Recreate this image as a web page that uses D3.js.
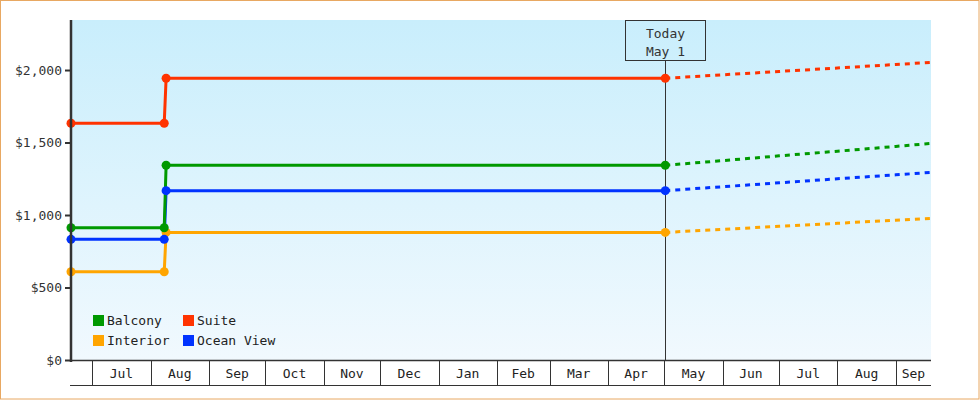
<!DOCTYPE html>
<html><head><meta charset="utf-8">
<script src="https://cdn.jsdelivr.net/npm/d3@7"></script>
<style>
body{margin:0;background:#fff}
svg{display:block;font-family:"DejaVu Sans Mono",monospace;font-size:13px}
</style>
</head><body><svg id="c" width="980" height="400"></svg>
<script>
// ---- data ----
const seriesNames = ["Balcony", "Suite", "Interior", "Ocean View"];
const historyDates = ["2022-06-19T17:00", "2022-08-08T06:00", "2022-08-09T06:00", "2023-05-01T12:00"];
const balconyHistory = [912, 912, 1343, 1343];
const suiteHistory = [1633, 1633, 1943, 1943];
const interiorHistory = [609, 609, 880, 880];
const oceanViewHistory = [832, 832, 1168, 1168];
const forecastDates = ["2023-05-01T12:00", "2023-06-01T00:00", "2023-07-01T00:00", "2023-08-01T00:00", "2023-09-01T00:00", "2023-09-19T17:00"];
const balconyForecast = [1343, 1375, 1408, 1440, 1473, 1494];
const suiteForecast = [1943, 1967, 1990, 2014, 2038, 2053];
const interiorForecast = [880, 901, 922, 943, 964, 977];
const oceanViewForecast = [1168, 1195, 1222, 1250, 1277, 1294];
const yTickValues = [0, 500, 1000, 1500, 2000];
const monthNames = ["Jan","Feb","Mar","Apr","May","Jun","Jul","Aug","Sep","Oct","Nov","Dec"];
const todayDate = "2023-05-01T12:00";
const todayText = ["Today", "May 1"];
const domainDates = ["2022-06-19T17:00", "2023-09-19T17:00"];
const yMax = 2345;

// ---- styles ----
const colors = {"Balcony":"#009900","Suite":"#ff3300","Interior":"#ffa500","Ocean View":"#0033ff"};
const L = 71, R = 931, T = 20, B = 360, AX = 385;

const parse = d3.timeParse("%Y-%m-%dT%H:%M");
const svg = d3.select("#c");
const x = d3.scaleTime().domain(domainDates.map(parse)).range([L, R]);
const y = d3.scaleLinear().domain([0, yMax]).range([B, T]);

const defs = svg.append("defs");
const grad = defs.append("linearGradient").attr("id","bg").attr("x1",0).attr("y1",0).attr("x2",0).attr("y2",1);
grad.append("stop").attr("offset","0%").attr("stop-color","#c9eefc");
grad.append("stop").attr("offset","100%").attr("stop-color","#f1f9fe");
defs.append("clipPath").attr("id","clip").append("rect").attr("x",L).attr("y",T).attr("width",R-L).attr("height",B-T);

// border
svg.append("rect").attr("x",0.5).attr("y",0.5).attr("width",978.5).attr("height",398.5)
  .attr("fill","#fff").attr("stroke","#e8a862").attr("stroke-width",1);

// plot background
svg.append("rect").attr("x",L).attr("y",T).attr("width",R-L).attr("height",B-T).attr("fill","url(#bg)");

// today line + label box
const tx = x(parse(todayDate));
svg.append("line").attr("x1",Math.round(tx)+0.5).attr("x2",Math.round(tx)+0.5).attr("y1",60).attr("y2",B)
  .attr("stroke","#333").attr("stroke-width",1);
svg.append("rect").attr("x",Math.round(tx)-39.5).attr("y",20.5).attr("width",80).attr("height",40)
  .attr("fill","none").attr("stroke","#333").attr("stroke-width",1);
svg.selectAll("text.today").data(todayText).join("text").attr("class","today")
  .attr("x",Math.round(tx)+0.5).attr("y",(d,i)=>33+i*18).attr("dy","0.35em").attr("text-anchor","middle")
  .attr("fill","#333").text(d=>d);

// series
const hist = {"Balcony":balconyHistory,"Suite":suiteHistory,"Interior":interiorHistory,"Ocean View":oceanViewHistory};
const fc = {"Balcony":balconyForecast,"Suite":suiteForecast,"Interior":interiorForecast,"Ocean View":oceanViewForecast};
const line = d3.line().x(d=>x(d[0])).y(d=>y(d[1]));
const g = svg.append("g").attr("clip-path","url(#clip)");
const drawOrder = ["Interior","Ocean View","Balcony","Suite"];
drawOrder.forEach(name=>{
  const fpts = forecastDates.map((d,i)=>[parse(d), fc[name][i]]);
  g.append("path").attr("d",line(fpts)).attr("fill","none").attr("stroke",colors[name])
    .attr("stroke-width",3).attr("stroke-dasharray","5,5");
});
drawOrder.forEach(name=>{
  const pts = historyDates.map((d,i)=>[parse(d), hist[name][i]]);
  g.append("path").attr("d",line(pts)).attr("fill","none").attr("stroke",colors[name]).attr("stroke-width",3);
  svg.append("g").selectAll("circle").data(pts).join("circle")
    .attr("cx",d=>x(d[0])).attr("cy",d=>y(d[1])).attr("r",4.5).attr("fill",colors[name]);
});

// y axis
const yAxis = svg.append("g").attr("transform",`translate(${L},0)`)
  .call(d3.axisLeft(y).tickValues(yTickValues).tickSize(6).tickPadding(3)
    .tickFormat(d=>"$"+d3.format(",")(d)));
yAxis.select(".domain").remove();
yAxis.selectAll(".tick line").attr("stroke","#333").attr("stroke-width",2);
yAxis.selectAll(".tick text").attr("fill","#333").style("font-family","DejaVu Sans Mono, monospace").style("font-size","13px");
svg.append("line").attr("x1",L).attr("x2",L).attr("y1",T).attr("y2",B+2).attr("stroke","#333").attr("stroke-width",2.5);

// x axis (month cells)
svg.append("line").attr("x1",L-1).attr("x2",R).attr("y1",B+0.5).attr("y2",B+0.5).attr("stroke","#333").attr("stroke-width",1.5);
svg.append("line").attr("x1",L-1).attr("x2",R).attr("y1",AX+0.5).attr("y2",AX+0.5).attr("stroke","#333").attr("stroke-width",1);
const [d0,d1] = x.domain();
const months = d3.timeMonth.range(d3.timeMonth.floor(d0), d1);
months.forEach(m=>{
  const xm = x(m);
  if (xm > L+1 && xm < R-1) {
    svg.append("line").attr("x1",Math.round(xm)+0.5).attr("x2",Math.round(xm)+0.5).attr("y1",B).attr("y2",AX)
      .attr("stroke","#333").attr("stroke-width",1);
  }
  const a = Math.max(xm, L), b = Math.min(x(d3.timeMonth.offset(m,1)), R);
  if (b - a > 28) {
    svg.append("text").attr("x",(a+b)/2).attr("y",373).attr("dy","0.35em").attr("text-anchor","middle")
      .attr("fill","#222").text(monthNames[m.getMonth()]);
  }
});

// legend
const legendLayout = [["Balcony",0,0],["Suite",1,0],["Interior",0,1],["Ocean View",1,1]];
const lg = svg.append("g");
legendLayout.forEach(([name,c,r])=>{
  const lx = 93 + c*90, ly = 315 + r*20;
  lg.append("rect").attr("x",lx).attr("y",ly).attr("width",11).attr("height",11).attr("fill",colors[name]);
  lg.append("text").attr("x",lx+14).attr("y",ly+5.5).attr("dy","0.35em").attr("fill","#222").text(name);
});
</script>
</body></html>
